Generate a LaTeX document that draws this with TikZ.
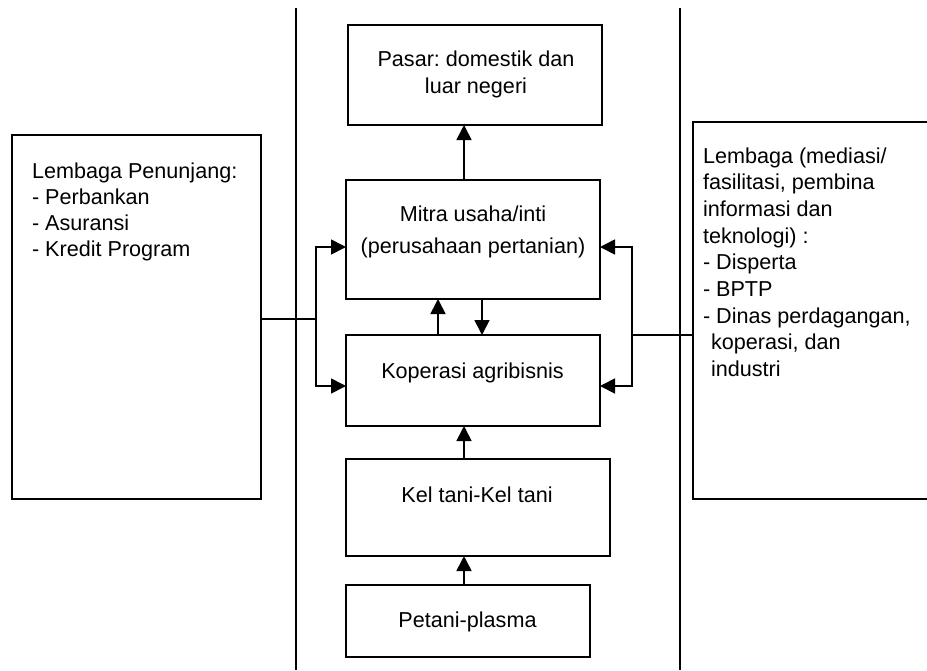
\documentclass[tikz,border=0pt]{standalone}
\usepackage{fontspec}
\setmainfont{Liberation Sans}
\usetikzlibrary{arrows.meta}
\frenchspacing
\begin{document}
\begin{tikzpicture}[x=1pt,y=-1pt,
  boxst/.style={draw, line width=1.7pt, inner sep=0pt, outer sep=0pt},
  lnst/.style={line width=1.7pt},
  arr/.style={line width=1.7pt, -{Triangle[length=15pt,width=15pt]}},
  txt/.style={inner sep=0pt, outer sep=0pt}]
\useasboundingbox (0,0) rectangle (927,670);
% dividers
\coordinate (v1t) at (296,8); \coordinate (v1b) at (296,670);
\coordinate (v2t) at (680,8); \coordinate (v2b) at (680,670);
\draw[lnst] (v1t) -- (v1b);
\draw[lnst] (v2t) -- (v2b);
% boxes
\node[boxst, minimum width=254pt, minimum height=100pt] (pasar) at (475,75) {};
\node[boxst, minimum width=254pt, minimum height=119pt] (mitra) at (473,239.5) {};
\node[boxst, minimum width=254pt, minimum height=91pt] (kop) at (473,380.5) {};
\node[boxst, minimum width=264pt, minimum height=97pt] (kel) at (478,507.5) {};
\node[boxst, minimum width=244pt, minimum height=72pt] (pet) at (468,621) {};
\node[boxst, minimum width=249pt, minimum height=364pt] (lbox) at (136.5,317) {};
\draw[lnst] (930,122) -- (693,122) -- (693,499) -- (930,499);
\coordinate (rbl) at (693,335);
% texts (anchor base = baseline of the last line)
\node[txt, anchor=base, align=center, font=\fontsize{21.6}{27}\selectfont] (pasart) at (476,93) {Pasar: domestik dan\\luar negeri};
\node[txt, anchor=base, align=center, font=\fontsize{21.6}{32}\selectfont] (mitrat) at (473,253) {Mitra usaha/inti\\(perusahaan pertanian)};
\node[txt, anchor=base, font=\fontsize{21.6}{26}\selectfont] (kopt) at (472.5,378) {Koperasi agribisnis};
\node[txt, anchor=base, font=\fontsize{21.6}{26}\selectfont] (kelt) at (477,502) {Kel tani-Kel tani};
\node[txt, anchor=base, font=\fontsize{21.6}{26}\selectfont] (pett) at (467.5,627) {Petani-plasma};
\node[txt, anchor=base west, align=left, font=\fontsize{21.6}{26}\selectfont] (lboxt) at (32,256) {Lembaga Penunjang:\\- Perbankan\\- Asuransi\\- Kredit Program};
\node[txt, anchor=base west, align=left, font=\fontsize{21.6}{26.7}\selectfont] (rboxt) at (703,376.6) {Lembaga (mediasi/\\fasilitasi, pembina\\informasi dan\\teknologi) :\\- Disperta\\- BPTP\\- Dinas perdagangan,\\\hspace*{8pt}koperasi, dan\\\hspace*{8pt}industri};
% vertical arrows
\draw[arr] (464,0 |- mitra.north) -- (464,0 |- pasar.south);
\draw[arr] (438,0 |- kop.north) -- (438,0 |- mitra.south);
\draw[arr] (482,0 |- mitra.south) -- (482,0 |- kop.north);
\draw[arr] (464,0 |- kel.north) -- (464,0 |- kop.south);
\draw[arr] (464,0 |- pet.north) -- (464,0 |- kel.south);
% side connectors
\coordinate (lj) at (316,319);
\coordinate (rj) at (632,335);
\draw[lnst] (lbox.east |- lj) -- (lj);
\draw[arr] (lj) |- (mitra.west |- 0,247);
\draw[arr] (lj) |- (kop.west |- 0,386);
\draw[lnst] (rbl) -- (rj);
\draw[arr] (rj) |- (mitra.east |- 0,247);
\draw[arr] (rj) |- (kop.east |- 0,386);
\end{tikzpicture}
\end{document}
